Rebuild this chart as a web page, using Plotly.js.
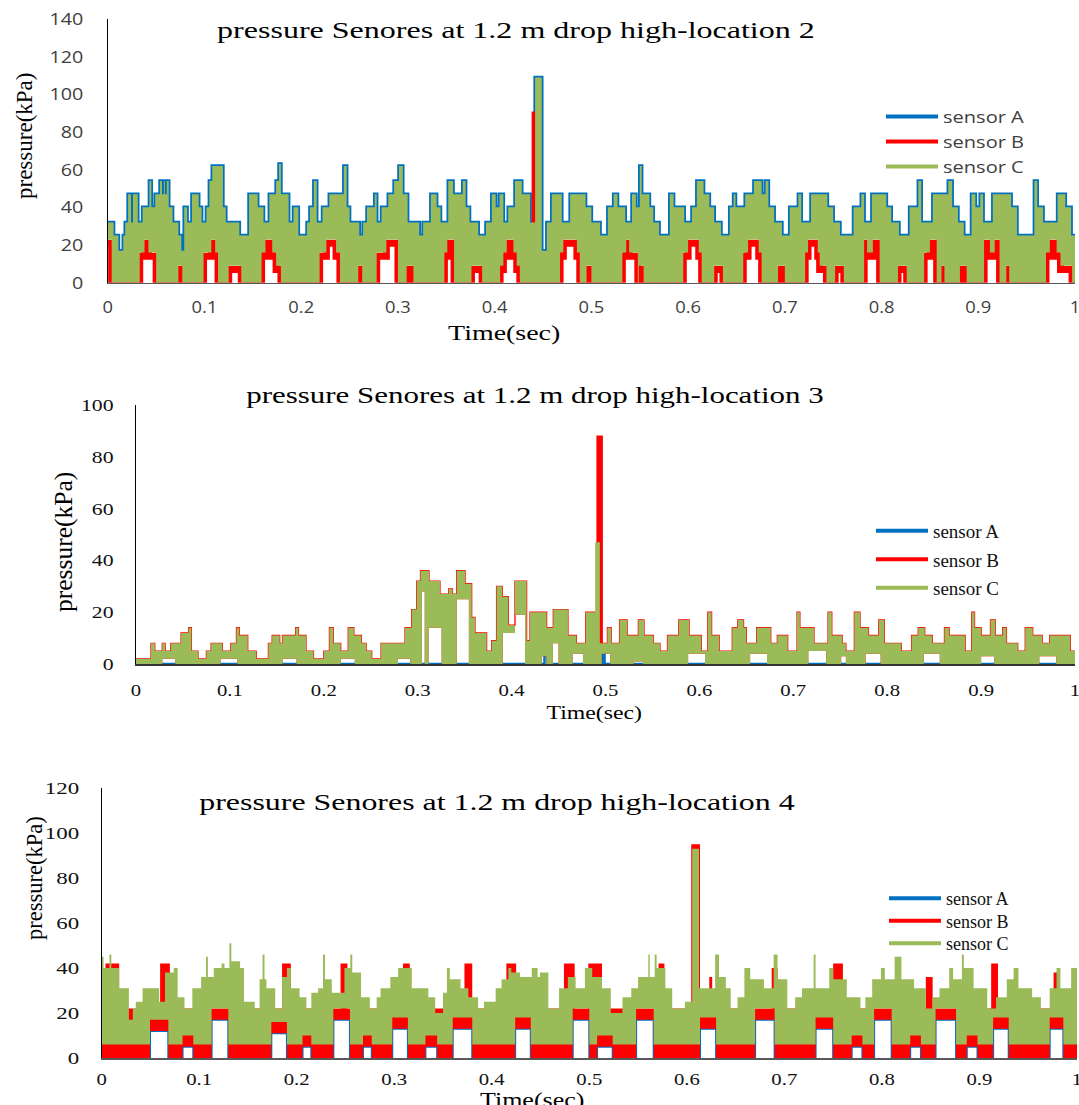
<!DOCTYPE html>
<html>
<head>
<meta charset="utf-8">
<script src="https://cdn.plot.ly/plotly-3.0.1.min.js"></script>
<style>
html, body { margin: 0; padding: 0; background: #ffffff; }
#chart { width: 1079px; height: 1105px; }
</style>
</head>
<body>
<div id="chart"></div>
<script>
// ---------------- DATA (time in s, pressure in kPa; step breakpoints) ----------------
const sensorNames = ["sensor A", "sensor B", "sensor C"];
const panelTitles = [
  "pressure Senores at 1.2 m drop high-location 2",
  "pressure Senores at 1.2 m drop high-location 3",
  "pressure Senores at 1.2 m drop high-location 4"
];
const xAxisTitle = "Time(sec)";
const yAxisTitle = "pressure(kPa)";
const yRanges = [[0, 140], [0, 100], [0, 120]];

// Location 2 : sensor A = upper outline of the signal (also the top of the sensor C band)
const p1_sensorA = [[0,32],[0.006,25],[0.011,17],[0.016,25],[0.018,32],[0.021,47],[0.024,32],[0.026,47],[0.031,32],[0.036,40],[0.043,54],[0.045,40],[0.049,47],[0.054,54],[0.056,47],[0.058,54],[0.059,47],[0.061,54],[0.063,40],[0.067,32],[0.073,25],[0.076,17],[0.079,40],[0.082,32],[0.087,47],[0.094,40],[0.097,32],[0.102,40],[0.105,54],[0.108,62],[0.119,40],[0.122,32],[0.136,25],[0.146,47],[0.155,40],[0.161,32],[0.167,47],[0.174,54],[0.177,63],[0.179,47],[0.187,32],[0.192,40],[0.197,25],[0.206,32],[0.209,40],[0.213,54],[0.216,32],[0.222,40],[0.229,47],[0.244,62],[0.247,40],[0.25,32],[0.26,25],[0.264,32],[0.268,40],[0.276,47],[0.278,32],[0.283,40],[0.29,47],[0.296,54],[0.301,62],[0.305,47],[0.31,32],[0.322,25],[0.326,32],[0.334,47],[0.34,40],[0.344,32],[0.352,54],[0.357,47],[0.367,54],[0.37,40],[0.374,32],[0.383,25],[0.391,32],[0.397,47],[0.401,40],[0.405,47],[0.409,32],[0.414,40],[0.421,54],[0.428,47],[0.4366,32],[0.4418,109],[0.4487,17],[0.4539,32],[0.459,47],[0.4694,32],[0.478,47],[0.488,47],[0.494,40],[0.5,32],[0.509,25],[0.517,40],[0.523,47],[0.527,40],[0.535,32],[0.542,47],[0.546,40],[0.55,62],[0.552,47],[0.56,40],[0.564,32],[0.57,25],[0.581,47],[0.585,40],[0.596,32],[0.604,40],[0.609,54],[0.616,47],[0.622,40],[0.627,32],[0.634,25],[0.643,40],[0.647,47],[0.649,40],[0.659,47],[0.668,54],[0.676,47],[0.68,54],[0.683,40],[0.689,32],[0.697,25],[0.705,40],[0.714,47],[0.717,32],[0.727,47],[0.744,40],[0.75,32],[0.757,25],[0.771,40],[0.779,47],[0.782,32],[0.79,47],[0.805,40],[0.81,32],[0.818,25],[0.829,40],[0.838,54],[0.841,32],[0.853,47],[0.869,54],[0.873,40],[0.879,32],[0.885,25],[0.893,47],[0.897,40],[0.902,47],[0.905,32],[0.915,47],[0.934,40],[0.94,25],[0.958,54],[0.961,40],[0.967,32],[0.982,47],[0.99,40],[0.996,25],[1,25]];
const p1_sensorC_high = p1_sensorA;
const p1_sensorB = [[0,21],[0.004,0],[0.033,14],[0.038,21],[0.042,14],[0.05,0],[0.073,7],[0.077,0],[0.099,14],[0.107,21],[0.111,14],[0.114,0],[0.125,7],[0.138,0],[0.159,14],[0.163,21],[0.17,14],[0.174,7],[0.179,0],[0.219,14],[0.226,21],[0.236,14],[0.24,0],[0.259,7],[0.263,0],[0.278,14],[0.288,21],[0.3,0],[0.309,7],[0.316,0],[0.348,14],[0.351,21],[0.358,0],[0.376,7],[0.387,0],[0.4056,7],[0.409,14],[0.4125,21],[0.4194,14],[0.4228,7],[0.426,0],[0.4418,89],[0.443,0],[0.4676,14],[0.471,21],[0.485,14],[0.488,0],[0.495,7],[0.5,0],[0.532,14],[0.536,21],[0.539,14],[0.548,0],[0.549,7],[0.554,0],[0.595,14],[0.6,21],[0.611,14],[0.614,0],[0.627,7],[0.636,0],[0.657,14],[0.662,21],[0.673,14],[0.676,0],[0.693,7],[0.7,0],[0.721,14],[0.724,21],[0.734,14],[0.736,7],[0.743,0],[0.752,7],[0.761,0],[0.782,21],[0.785,14],[0.791,21],[0.798,0],[0.817,7],[0.826,0],[0.844,14],[0.85,21],[0.857,0],[0.862,7],[0.865,0],[0.881,7],[0.888,0],[0.906,21],[0.912,14],[0.917,21],[0.922,0],[0.929,7],[0.932,0],[0.97,14],[0.974,21],[0.981,14],[0.985,7],[0.997,0],[1,0]];
const p1_sensorC_low = [[0,23],[0.004,0],[0.033,16],[0.038,23],[0.042,16],[0.05,0],[0.073,9],[0.077,0],[0.099,16],[0.107,23],[0.111,16],[0.114,0],[0.125,9],[0.138,0],[0.159,16],[0.163,23],[0.17,16],[0.174,9],[0.179,0],[0.219,16],[0.226,23],[0.236,16],[0.24,0],[0.259,9],[0.263,0],[0.278,16],[0.288,23],[0.3,0],[0.309,9],[0.316,0],[0.348,16],[0.351,23],[0.358,0],[0.376,9],[0.387,0],[0.4056,9],[0.409,16],[0.4125,23],[0.4194,16],[0.4228,9],[0.426,0],[0.4676,16],[0.471,23],[0.485,16],[0.488,0],[0.495,9],[0.5,0],[0.532,16],[0.536,23],[0.539,16],[0.548,0],[0.549,9],[0.554,0],[0.595,16],[0.6,23],[0.611,16],[0.614,0],[0.627,9],[0.636,0],[0.657,16],[0.662,23],[0.673,16],[0.676,0],[0.693,9],[0.7,0],[0.721,16],[0.724,23],[0.734,16],[0.736,9],[0.743,0],[0.752,9],[0.761,0],[0.782,23],[0.785,16],[0.791,23],[0.798,0],[0.817,9],[0.826,0],[0.844,16],[0.85,23],[0.857,0],[0.862,9],[0.865,0],[0.881,9],[0.888,0],[0.906,23],[0.912,16],[0.917,23],[0.922,0],[0.929,9],[0.932,0],[0.97,16],[0.974,23],[0.981,16],[0.985,9],[0.997,0],[1,0]];

// Location 3
const p2_sensorA = [[0,0],[0.435,3],[0.438,0],[0.4965,4],[0.499,0],[1,0]];
const p2_sensorB = [[0,2],[0.016,8],[0.02,5],[0.028,8],[0.031,5],[0.037,8],[0.048,12],[0.056,14],[0.059,5],[0.066,2],[0.075,5],[0.08,8],[0.092,5],[0.101,8],[0.107,14],[0.11,11],[0.119,5],[0.128,2],[0.141,8],[0.145,11],[0.153,8],[0.156,11],[0.17,14],[0.173,11],[0.181,5],[0.189,2],[0.2,5],[0.206,14],[0.21,8],[0.218,5],[0.226,14],[0.232,11],[0.24,8],[0.245,5],[0.251,2],[0.261,8],[0.2865,14],[0.2936,21],[0.299,32],[0.303,36],[0.312,32],[0.3237,27],[0.333,29],[0.337,27],[0.3415,36],[0.3504,31],[0.3575,18],[0.361,12],[0.3734,5],[0.3788,9],[0.384,30],[0.39,26],[0.3965,15],[0.4036,32],[0.416,9],[0.4196,20],[0.4373,14],[0.4444,21],[0.46,11],[0.469,8],[0.479,20],[0.491,88],[0.4965,8],[0.502,14],[0.506,8],[0.515,17],[0.523,11],[0.535,17],[0.541,11],[0.551,8],[0.558,5],[0.566,11],[0.578,17],[0.589,11],[0.602,5],[0.609,20],[0.613,11],[0.621,5],[0.635,14],[0.641,17],[0.647,14],[0.65,8],[0.661,14],[0.676,8],[0.683,11],[0.694,5],[0.704,20],[0.707,14],[0.722,8],[0.737,20],[0.741,11],[0.752,8],[0.756,5],[0.765,20],[0.771,14],[0.78,11],[0.791,17],[0.797,8],[0.815,5],[0.826,11],[0.833,14],[0.84,11],[0.848,8],[0.861,14],[0.866,11],[0.883,5],[0.89,20],[0.893,14],[0.9,11],[0.91,17],[0.915,11],[0.923,14],[0.927,8],[0.939,5],[0.947,14],[0.955,11],[0.965,8],[0.973,11],[0.995,5],[1,5]];
const p2_sensorC_high = [[0,2],[0.016,8],[0.02,5],[0.028,8],[0.031,5],[0.037,8],[0.048,12],[0.056,14],[0.059,5],[0.066,2],[0.075,5],[0.08,8],[0.092,5],[0.101,8],[0.107,14],[0.11,11],[0.119,5],[0.128,2],[0.141,8],[0.145,11],[0.153,8],[0.156,11],[0.17,14],[0.173,11],[0.181,5],[0.189,2],[0.2,5],[0.206,14],[0.21,8],[0.218,5],[0.226,14],[0.232,11],[0.24,8],[0.245,5],[0.251,2],[0.261,8],[0.2865,14],[0.2936,21],[0.299,32],[0.303,36],[0.312,32],[0.3237,27],[0.333,29],[0.337,27],[0.3415,36],[0.3504,31],[0.3575,18],[0.361,12],[0.3734,5],[0.3788,9],[0.384,30],[0.39,26],[0.3965,15],[0.4036,32],[0.416,9],[0.4196,20],[0.4373,14],[0.4444,21],[0.46,11],[0.469,8],[0.479,20],[0.489,47],[0.494,8],[0.502,14],[0.506,8],[0.515,17],[0.523,11],[0.535,17],[0.541,11],[0.551,8],[0.558,5],[0.566,11],[0.578,17],[0.589,11],[0.602,5],[0.609,20],[0.613,11],[0.621,5],[0.635,14],[0.641,17],[0.647,14],[0.65,8],[0.661,14],[0.676,8],[0.683,11],[0.694,5],[0.704,20],[0.707,14],[0.722,8],[0.737,20],[0.741,11],[0.752,8],[0.756,5],[0.765,20],[0.771,14],[0.78,11],[0.791,17],[0.797,8],[0.815,5],[0.826,11],[0.833,14],[0.84,11],[0.848,8],[0.861,14],[0.866,11],[0.883,5],[0.89,20],[0.893,14],[0.9,11],[0.91,17],[0.915,11],[0.923,14],[0.927,8],[0.939,5],[0.947,14],[0.955,11],[0.965,8],[0.973,11],[0.995,5],[1,5]];
const p2_sensorC_low = [[0,0],[0.028,2],[0.042,0],[0.09,2],[0.108,0],[0.156,2],[0.171,0],[0.218,2],[0.233,0],[0.279,2],[0.292,0],[0.3045,28],[0.3075,0],[0.3115,14],[0.3255,0],[0.3415,25],[0.3545,0],[0.3905,12],[0.4036,19],[0.4143,0],[0.432,3],[0.437,0],[0.444,8],[0.45,0],[0.465,4],[0.476,0],[0.496,4],[0.505,0],[0.53,1],[0.54,0],[0.588,4],[0.606,0],[0.654,4],[0.672,0],[0.716,5],[0.735,0],[0.751,3],[0.756,0],[0.777,4],[0.793,0],[0.839,4],[0.856,0],[0.9,3],[0.914,0],[0.962,3],[0.98,0],[1,0]];

// Location 4
const p3_sensorA = [[0,0],[0.0496,12],[0.0684,0],[0.083,5],[0.094,0],[0.1128,17],[0.1299,0],[0.174,11],[0.19,0],[0.206,5],[0.215,0],[0.2376,17],[0.2546,0],[0.268,5],[0.277,0],[0.298,13],[0.314,0],[0.332,5],[0.344,0],[0.36,13],[0.38,0],[0.424,13],[0.44,0],[0.483,17],[0.5,0],[0.508,5],[0.524,0],[0.548,17],[0.566,0],[0.6135,13],[0.63,0],[0.67,17],[0.69,0],[0.732,13],[0.75,0],[0.769,5],[0.78,0],[0.792,17],[0.81,0],[0.829,5],[0.84,0],[0.855,17],[0.876,0],[0.887,5],[0.898,0],[0.914,13],[0.93,0],[0.972,13],[0.986,0],[1,0]];
const p3_sensorB_low = [[0,0],[0.0496,12],[0.0684,0],[0.083,5],[0.094,0],[0.1128,17],[0.1299,0],[0.174,11],[0.19,0],[0.206,5],[0.215,0],[0.2376,17],[0.2546,0],[0.268,5],[0.277,0],[0.298,13],[0.314,0],[0.332,5],[0.344,0],[0.36,13],[0.38,0],[0.424,13],[0.44,0],[0.483,17],[0.5,0],[0.508,5],[0.524,0],[0.548,17],[0.566,0],[0.6135,13],[0.63,0],[0.67,17],[0.69,0],[0.732,13],[0.75,0],[0.769,5],[0.78,0],[0.792,17],[0.81,0],[0.829,5],[0.84,0],[0.855,17],[0.876,0],[0.887,5],[0.898,0],[0.914,13],[0.93,0],[0.972,13],[0.986,0],[1,0]];
const p3_sensorB_high = [[0,20],[0.004,42],[0.018,22],[0.06,42],[0.07,22],[0.136,40],[0.141,22],[0.185,42],[0.194,22],[0.245,42],[0.252,22],[0.309,42],[0.316,22],[0.372,42],[0.38,22],[0.415,42],[0.425,22],[0.474,42],[0.485,22],[0.499,42],[0.513,22],[0.571,42],[0.577,22],[0.6045,95],[0.6135,22],[0.623,36],[0.626,22],[0.687,40],[0.693,22],[0.75,42],[0.76,22],[0.845,36],[0.852,22],[0.912,42],[0.919,22],[0.976,38],[0.98,22],[1,22]];
const p3_sensorC_low = [[0,6],[0.0496,17],[0.0684,6],[0.083,10],[0.094,6],[0.1128,22],[0.1299,6],[0.174,16],[0.19,6],[0.206,10],[0.215,6],[0.2376,22],[0.2546,6],[0.268,10],[0.277,6],[0.298,18],[0.314,6],[0.332,10],[0.344,6],[0.36,18],[0.38,6],[0.424,18],[0.44,6],[0.483,22],[0.5,6],[0.508,10],[0.524,6],[0.548,22],[0.566,6],[0.6135,18],[0.63,6],[0.67,22],[0.69,6],[0.732,18],[0.75,6],[0.769,10],[0.78,6],[0.792,22],[0.81,6],[0.829,10],[0.84,6],[0.855,22],[0.876,6],[0.887,10],[0.898,6],[0.914,18],[0.93,6],[0.972,18],[0.986,6],[1,6]];
const p3_sensorC_high = [[0,45],[0.002,40],[0.008,46],[0.01,40],[0.018,31],[0.028,17],[0.032,22],[0.035,25],[0.042,31],[0.059,25],[0.065,38],[0.074,40],[0.078,27],[0.085,22],[0.093,31],[0.102,36],[0.107,45],[0.109,36],[0.115,40],[0.123,42],[0.126,40],[0.131,51],[0.133,43],[0.142,40],[0.146,25],[0.157,22],[0.162,35],[0.165,46],[0.167,35],[0.169,31],[0.178,22],[0.185,36],[0.19,40],[0.194,31],[0.203,27],[0.21,22],[0.215,29],[0.222,31],[0.227,46],[0.229,35],[0.236,29],[0.249,40],[0.255,46],[0.257,38],[0.266,27],[0.275,22],[0.282,27],[0.286,31],[0.296,36],[0.304,40],[0.318,31],[0.335,27],[0.342,20],[0.35,29],[0.354,40],[0.357,35],[0.368,31],[0.376,27],[0.386,22],[0.392,25],[0.404,31],[0.41,35],[0.417,40],[0.42,38],[0.429,36],[0.441,40],[0.447,36],[0.4495,38],[0.458,22],[0.469,31],[0.478,36],[0.486,31],[0.4955,40],[0.503,36],[0.513,31],[0.522,20],[0.534,27],[0.543,31],[0.55,36],[0.5605,46],[0.562,36],[0.567,46],[0.569,40],[0.578,31],[0.585,22],[0.598,25],[0.6055,93],[0.6125,31],[0.629,46],[0.633,36],[0.64,31],[0.645,22],[0.652,27],[0.659,40],[0.665,35],[0.679,31],[0.689,46],[0.693,35],[0.703,22],[0.711,27],[0.718,31],[0.73,46],[0.732,31],[0.746,40],[0.75,35],[0.764,27],[0.778,22],[0.783,27],[0.79,35],[0.799,40],[0.803,35],[0.813,45],[0.82,35],[0.833,31],[0.845,22],[0.852,27],[0.859,31],[0.869,40],[0.873,35],[0.882,46],[0.884,40],[0.894,31],[0.908,22],[0.917,27],[0.928,35],[0.935,40],[0.94,31],[0.954,27],[0.963,22],[0.972,31],[0.979,40],[0.983,31],[0.994,40],[1,40]];

// ---------------- STYLE ----------------
const colA = '#0070C0', colB = '#FF0000', colC = '#9BBB59';
const SERIF = 'Liberation Serif, Times New Roman, serif';
const SANS = 'Open Sans, Liberation Sans, sans-serif';

const xs = p => p.map(d => d[0]);
const ys = p => p.map(d => d[1]);
const axId = i => (i === 1 ? '' : String(i));

function stepLine(pairs, panel, color, width) {
  return { type: 'scatter', mode: 'lines', x: xs(pairs), y: ys(pairs),
    xaxis: 'x' + axId(panel), yaxis: 'y' + axId(panel),
    line: { color: color, width: width, shape: 'hv' }, showlegend: false, hoverinfo: 'skip' };
}
function band(low, high, panel, color, edgeWidth) {
  return [
    { type: 'scatter', mode: 'lines', x: xs(low), y: ys(low), xaxis: 'x' + axId(panel), yaxis: 'y' + axId(panel),
      line: { color: color, width: 0, shape: 'hv' }, showlegend: false, hoverinfo: 'skip' },
    { type: 'scatter', mode: 'lines', x: xs(high), y: ys(high), xaxis: 'x' + axId(panel), yaxis: 'y' + axId(panel),
      line: { color: color, width: edgeWidth || 0, shape: 'hv' }, fill: 'tonexty', fillcolor: color, showlegend: false, hoverinfo: 'skip' }
  ];
}
function legendEntries(panel, width) {
  const cols = [colA, colB, colC];
  return sensorNames.map((n, i) => ({ type: 'scatter', mode: 'lines', x: [null], y: [null], name: n,
    xaxis: 'x' + axId(panel), yaxis: 'y' + axId(panel), legend: panel === 1 ? 'legend' : 'legend' + panel,
    line: { color: cols[i], width: width }, showlegend: true, hoverinfo: 'skip' }));
}

const traces = [
  stepLine(p1_sensorA, 1, colA, 3.5),
  stepLine(p1_sensorB, 1, colB, 7),
  ...band(p1_sensorC_low, p1_sensorC_high, 1, colC),
  ...legendEntries(1, 4),

  stepLine(p2_sensorA, 2, colA, 2.5),
  ...band(p2_sensorC_low, p2_sensorB, 2, colB, 1.3),
  ...band(p2_sensorC_low, p2_sensorC_high, 2, colC),
  ...legendEntries(2, 4),

  stepLine(p3_sensorA, 3, colA, 2),
  ...band(p3_sensorB_low, p3_sensorB_high, 3, colB),
  ...band(p3_sensorC_low, p3_sensorC_high, 3, colC),
  ...legendEntries(3, 4)
];

const W = 1079, H = 1105;
const px = x => x / W;
const py = y => 1 - y / H;

function xAxis(dom, anchor, font, standoff, lineColor) {
  return { domain: dom, anchor: anchor, range: [0, 1], tick0: 0, dtick: 0.1, showgrid: false, zeroline: false,
    showline: true, linecolor: lineColor, linewidth: 1.5, ticks: '', tickfont: font, ticklabelstandoff: standoff,
    ticklabeloverflow: 'allow', fixedrange: true };
}
function yAxis(dom, anchor, range, font, standoff) {
  return { domain: dom, anchor: anchor, range: range, dtick: 20, showgrid: false, zeroline: false,
    showline: true, linecolor: '#000000', linewidth: 1, ticks: '', tickfont: font, ticklabelstandoff: standoff,
    ticklabeloverflow: 'allow', fixedrange: true };
}
const f1 = { family: SANS, size: 17, color: '#404040' };
const f2 = { family: SERIF, size: 17, color: '#111111' };

function ann(text, x, y, size, angle) {
  return { text: text, xref: 'paper', yref: 'paper', x: px(x), y: py(y), xanchor: 'center', yanchor: 'middle',
    showarrow: false, textangle: angle || 0, font: { family: SERIF, size: size, color: '#000000' } };
}
function legendBox(x, y, font) {
  return { x: px(x), y: py(y), xanchor: 'left', yanchor: 'top', bgcolor: 'rgba(0,0,0,0)', itemwidth: 52,
    traceorder: 'normal', font: font };
}

const layout = {
  width: W, height: H, margin: { l: 0, r: 0, t: 0, b: 0 },
  paper_bgcolor: '#ffffff', plot_bgcolor: 'rgba(0,0,0,0)', showlegend: true,
  xaxis:  xAxis([px(107.8), px(1075)], 'y', f1, 8, '#595959'),
  yaxis:  yAxis([py(282.7), py(19)], 'x', yRanges[0], f1, 20),
  xaxis2: xAxis([px(136), px(1075)], 'y2', f2, 10, '#333333'),
  yaxis2: yAxis([py(664), py(405)], 'x2', yRanges[1], f2, 18),
  xaxis3: xAxis([px(101.6), px(1077)], 'y3', f2, 5, '#595959'),
  yaxis3: yAxis([py(1058), py(788)], 'x3', yRanges[2], f2, 18),
  legend:  legendBox(881, 99, { family: SANS, size: 17, color: '#404040' }),
  legend2: legendBox(871, 512, { family: SERIF, size: 19, color: '#111111' }),
  legend3: legendBox(884, 880, { family: SERIF, size: 18, color: '#111111' }),
  annotations: [
    ann(panelTitles[0], 516, 30, 24),
    ann(panelTitles[1], 535, 395, 24),
    ann(panelTitles[2], 497, 802, 24),
    ann(xAxisTitle, 504, 333, 21.5),
    ann(xAxisTitle, 594, 713, 19),
    ann(xAxisTitle, 532, 1100, 20),
    ann(yAxisTitle, 24, 136, 23, -90),
    ann(yAxisTitle, 63, 542, 25.5, -90),
    ann(yAxisTitle, 34, 878, 22.5, -90)
  ]
};

// horizontal stretch of text (the reference picture is widened)
function stretch(nodes, sx, anchor) {
  nodes.forEach(el => {
    const b = el.getBBox();
    const cx = anchor === 'start' ? b.x : (anchor === 'end' ? b.x + b.width : b.x + b.width / 2);
    const prev = el.getAttribute('transform') || '';
    el.setAttribute('transform', prev + ' translate(' + cx + ',0) scale(' + sx + ',1) translate(' + (-cx) + ',0)');
  });
}
function respaceLegend(cls, spacing, sx) {
  const root = document.querySelector('g.' + cls);
  if (!root) return;
  root.querySelectorAll('[clip-path]').forEach(e => e.removeAttribute('clip-path'));
  const items = Array.from(root.querySelectorAll('.traces'));
  let y0 = null;
  items.forEach((g, i) => {
    const m = /translate\(\s*([-\d.]+)[ ,]+([-\d.]+)\s*\)/.exec(g.getAttribute('transform') || '');
    if (!m) return;
    if (y0 === null) y0 = parseFloat(m[2]);
    g.setAttribute('transform', 'translate(' + m[1] + ',' + (y0 + i * spacing) + ')');
  });
  root.querySelectorAll('.legendlines path').forEach(p => p.setAttribute('d', 'M5,0h52'));
  stretch(Array.from(root.querySelectorAll('.legendtext')), sx, 'start');
}

Plotly.newPlot('chart', traces, layout, { staticPlot: true, displayModeBar: false }).then(() => {
  const q = s => Array.from(document.querySelectorAll(s));
  stretch(q('.xtick text'), 1.08, 'mid');
  stretch(q('.ytick text'), 1.16, 'end');
  stretch(q('.x2tick text'), 1.22, 'mid');
  stretch(q('.y2tick text'), 1.28, 'end');
  stretch(q('.x3tick text'), 1.22, 'mid');
  stretch(q('.y3tick text'), 1.35, 'end');
  const annScale = [1.335, 1.29, 1.33, 1.3, 1.25, 1.3];
  const annTexts = q('.annotation-text');
  annScale.forEach((s, i) => { if (annTexts[i]) stretch([annTexts[i]], s, 'mid'); });
  respaceLegend('legend', 25, 1.18);
  respaceLegend('legend2', 28.5, 1.2);
  respaceLegend('legend3', 22.5, 1.3);
});
</script>
</body>
</html>
